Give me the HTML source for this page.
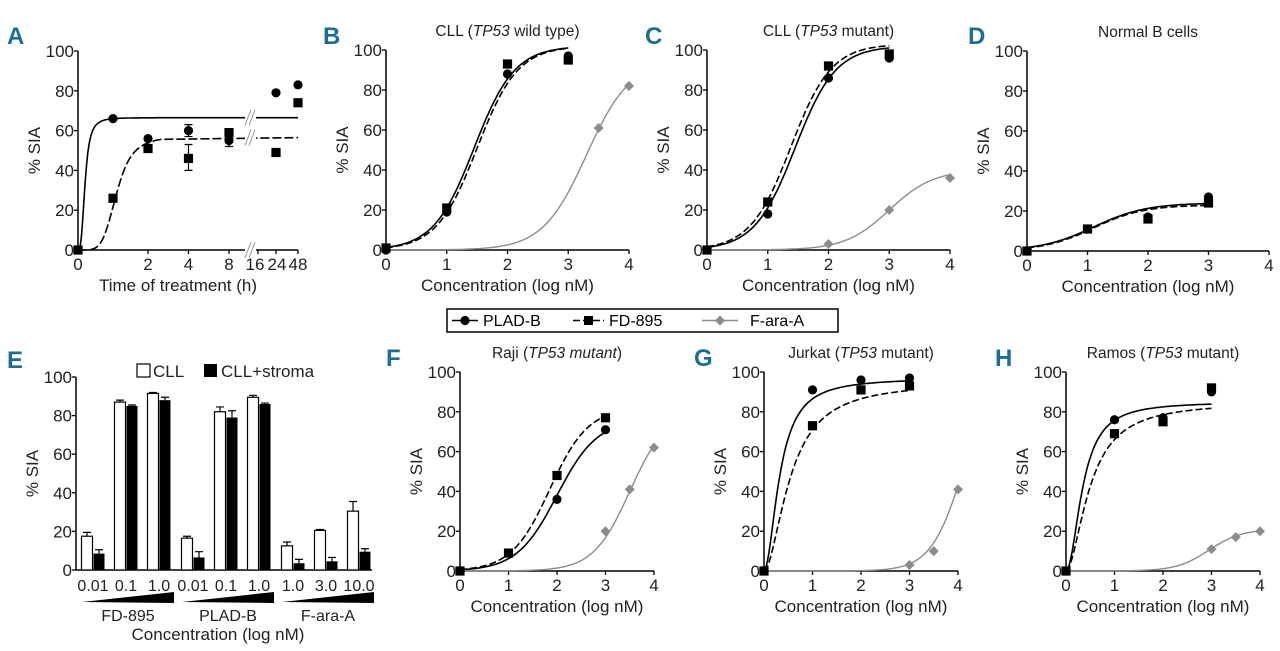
<!DOCTYPE html>
<html><head><meta charset="utf-8"><style>
html,body{margin:0;padding:0;background:#fff;}
svg{display:block;font-family:"Liberation Sans",sans-serif;}
.lt{font-family:"Liberation Sans Narrow","Liberation Sans",sans-serif;font-weight:bold;fill:#1c6f93;font-size:24px;}
</style></head><body>
<svg id="fig" width="1280" height="651" viewBox="0 0 1280 651" xmlns="http://www.w3.org/2000/svg"></svg>
<script>
// ---------- DATA ----------
const conc = [0,1,2,3];
const B_plad = [0,19,88,97];
const B_fd = [1,21,93,95];
const B_fx = [3.5,4];
const B_fara = [61,82];
const C_plad = [0,18,86,96];
const C_fd = [0,24,92,98];
const C_fx = [2,3,4];
const C_fara = [3,20,36];
const D_plad = [0,11,17,27];
const D_fd = [0,11,16,24];
const F_plad = [0,9,36,71];
const F_fd = [0,9,48,77];
const F_fx = [3,3.5,4];
const F_fara = [20,41,62];
const G_plad = [0,91,96,97];
const G_fd = [0,73,91,93];
const G_fx = [3,3.5,4];
const G_fara = [3,10,41];
const H_plad = [0,76,77,90];
const H_fd = [0,69,75,92];
const H_fx = [3,3.5,4];
const H_fara = [11,17,20];
// curve params: [model, top, ec, hill]
const B_fit = [["L",102,1.45,1.3],["L",102,1.5,1.3],["L",95,3.3,1.2]];
const C_fit = [["L",102,1.45,1.3],["L",103,1.38,1.3],["L",40,3.0,1.2]];
const D_fit = [["L",24,1.1,1.0],["L",23,1.1,1.05],null];
const F_fit = [["L",76,2.0,1.05],["L",82,1.85,1.1],["L",80,3.5,1.15]];
const G_fit = [["H",97,0.33,1.9],["H",95,0.55,1.8],["L",100,4.1,1.3]];
const H_fit = [["H",85,0.35,2],["H",85,0.5,1.8],["L",21,2.95,1.3]];
const yTicks = [0,20,40,60,80,100];
const xTicks = [0,1,2,3,4];
// Panel A
const A_time = [0,1,2,4,8,24,48];
const A_plad = [0,66,56,60,55,79,83];
const A_fd = [0,26,51,46,59,49,74];
const A_errTime = [2,4,4,8];
const A_errLo = [55,57,40,52];
const A_errHi = [57,63,53,57];
const A_fit = [["H",66.5,0.2,3],["H",56.5,1.1,5]];
const A_xTicks = [0,2,4,8,16,24,48];
// Panel E
const E_groups = ["FD-895","PLAD-B","F-ara-A"];
const E_doses = ["0.01","0.1","1.0","0.01","0.1","1.0","1.0","3.0","10.0"];
const E_cll = [17.5,87,91.5,16.5,82,89.5,12.5,20.5,30.5];
const E_cllErr = [2,1,0.5,1,2.5,1,2,0.5,5];
const E_str = [8.5,85,88,6.5,79,86,3.5,4.5,9.5];
const E_strErr = [2,0.5,1.5,3,3.5,0.5,2,2,1.5];

// ---------- HELPERS ----------
const NS="http://www.w3.org/2000/svg";
const svg=document.getElementById('fig');
function mk(tag,attrs,parent){const e=document.createElementNS(NS,tag);for(const k in attrs)e.setAttribute(k,attrs[k]);(parent||svg).appendChild(e);return e;}
function fitY(p,x){if(p[0]==="L")return p[1]/(1+Math.pow(10,(p[2]-x)*p[3]));if(x<=0)return 0;return p[1]*Math.pow(x,p[3])/(Math.pow(p[2],p[3])+Math.pow(x,p[3]));}
function marker(g,type,cx,cy,name){let e;
 if(type==="c")e=mk('circle',{cx:cx,cy:cy,r:4.6,fill:'#000'},g);
 else if(type==="s")e=mk('rect',{x:cx-4.6,y:cy-4.6,width:9.2,height:9.2,fill:'#000'},g);
 else e=mk('path',{d:`M${cx} ${cy-5}L${cx+5} ${cy}L${cx} ${cy+5}L${cx-5} ${cy}Z`,fill:'#8c8c8c'},g);
 
 
 return e;}
function txt(g,x,y,s,attrs){const t=mk('text',Object.assign({x:x,y:y},attrs||{}),g);t.textContent=s;return t;}

function yAxis(g,ax,yb,yt){
 const sy=v=>yb+(yt-yb)*v/100;
 const l=mk('line',{x1:ax,y1:yb,x2:ax,y2:yt,stroke:'#000','stroke-width':1.5},g);
 
 
 yTicks.forEach(v=>{mk('line',{x1:ax-4,x2:ax,y1:sy(v),y2:sy(v),stroke:'#000','stroke-width':1.3},g);
  const t=txt(g,ax-4,sy(v)+6,String(v),{'font-size':17,'text-anchor':'end',fill:'#222'});
  
  });
 const yt2=txt(g,0,0,'% SIA',{'font-size':17,'text-anchor':'middle',fill:'#222',transform:`translate(${ax-38},${(yb+yt)/2}) rotate(-90)`});
 
 
 return sy;}

function panel(name,cfg,plad,fd,fx,fara,fit){
 const g=mk('g',{});
 
 
 const sx=v=>cfg.x0+cfg.xs*v;
 const sy=yAxis(g,cfg.x0,cfg.yb,cfg.yt);
 const xl=mk('line',{x1:cfg.x0,y1:cfg.yb,x2:sx(4),y2:cfg.yb,stroke:'#000','stroke-width':1.5},g);
 
 
 xTicks.forEach(v=>{mk('line',{x1:sx(v),x2:sx(v),y1:cfg.yb,y2:cfg.yb+4,stroke:'#000','stroke-width':1.3},g);
  const t=txt(g,sx(v),cfg.yb+20,String(v),{'font-size':17,'text-anchor':'middle',fill:'#222'});
  
  });
 const xt=txt(g,sx(2),cfg.yb+41,'Concentration (log nM)',{'font-size':17,'text-anchor':'middle',fill:'#222'});
 
 
 const tt=mk('text',{x:sx(2),y:cfg.yt-14,'font-size':15.5,'text-anchor':'middle',fill:'#222'},g);
 tt.innerHTML=cfg.title;
 
 
 const styles=[{stroke:'#000','stroke-width':1.6},{stroke:'#000','stroke-width':1.6,'stroke-dasharray':'7,3'},{stroke:'#8c8c8c','stroke-width':1.4}];
 const names=['plad-b-fit-curve','fd-895-fit-curve','f-ara-a-fit-curve'];
 fit.forEach((p,i)=>{if(!p)return;const xe=i===2?4:3;let d='';
  for(let k=0;k<=120;k++){const x=xe*k/120;d+=(k?'L':'M')+sx(x).toFixed(1)+' '+sy(Math.min(fitY(p,x),104)).toFixed(1);}
  const c=mk('path',Object.assign({d:d,fill:'none'},styles[i]),g);
  
  });
 if(fx)fx.forEach((x,i)=>marker(g,'d',sx(x),sy(fara[i]),'f-ara-a-point'));
 conc.forEach((x,i)=>marker(g,'s',sx(x),sy(fd[i]),'fd-895-point'));
 conc.forEach((x,i)=>marker(g,'c',sx(x),sy(plad[i]),'plad-b-point'));
}

panel('panel-b',{x0:386,xs:60.75,yb:250,yt:50,title:'CLL (<tspan font-style="italic">TP53</tspan> wild type)'},B_plad,B_fd,B_fx,B_fara,B_fit);
panel('panel-c',{x0:707,xs:60.75,yb:250,yt:50,title:'CLL (<tspan font-style="italic">TP53</tspan> mutant)'},C_plad,C_fd,C_fx,C_fara,C_fit);
panel('panel-d',{x0:1027,xs:60.5,yb:251,yt:51,title:'Normal B cells'},D_plad,D_fd,null,null,D_fit);
panel('panel-f',{x0:460,xs:48.5,yb:571,yt:372,title:'Raji (<tspan font-style="italic">TP53 mutant</tspan>)'},F_plad,F_fd,F_fx,F_fara,F_fit);
panel('panel-g',{x0:764,xs:48.5,yb:571,yt:372,title:'Jurkat (<tspan font-style="italic">TP53</tspan> mutant)'},G_plad,G_fd,G_fx,G_fara,G_fit);
panel('panel-h',{x0:1066,xs:48.5,yb:571,yt:372,title:'Ramos (<tspan font-style="italic">TP53</tspan> mutant)'},H_plad,H_fd,H_fx,H_fara,H_fit);

// ---------- PANEL A ----------
(function(){
 const g=mk('g',{});
 
 
 const ax=78, yb=250, yt=51;
 const brkV=[8,16,24,48], brkP=[229,258,276,298];
 function sx(v){if(v<=2)return ax+35*v;if(v<=8)return 148+40.5*Math.log2(v/2);
  for(let i=0;i<3;i++)if(v<=brkV[i+1])return brkP[i]+(brkP[i+1]-brkP[i])*(v-brkV[i])/(brkV[i+1]-brkV[i]);return 298;}
 const sy=yAxis(g,ax,yb,yt);
 mk('line',{x1:ax,y1:yb,x2:298,y2:yb,stroke:'#000','stroke-width':1.5},g);
 A_xTicks.forEach(v=>{mk('line',{x1:sx(v),x2:sx(v),y1:yb,y2:yb+4,stroke:'#000','stroke-width':1.3},g);
  const t=txt(g,sx(v)+(v===16?-3:v===24?1:0),yb+20,String(v),{'font-size':17,'text-anchor':'middle',fill:'#222'});
  
  });
 const xt=txt(g,178,yb+41,'Time of treatment (h)',{'font-size':17,'text-anchor':'middle',fill:'#222'});
 
 
 const st=[{stroke:'#000','stroke-width':1.6},{stroke:'#000','stroke-width':1.6,'stroke-dasharray':'9,3'}];
 A_fit.forEach((p,i)=>{let d='';for(let k=0;k<=80;k++){const x=2.5*k/80;d+=(k?'L':'M')+sx(x).toFixed(1)+' '+sy(fitY(p,x)).toFixed(1);}
  d+='L298 '+sy(p[1]).toFixed(1);
  const c=mk('path',Object.assign({d:d,fill:'none'},st[i]),g);
  
  });
 // break marks
 [[sy(66.5)],[sy(56.5)],[yb]].forEach(a=>{const y=a[0];
  mk('rect',{x:245,y:y-3,width:11,height:6,fill:'#fff'},g);
  const b=mk('path',{d:`M245 ${y+8}L251 ${y-8}M249 ${y+8}L255 ${y-8}`,stroke:'#999','stroke-width':1,fill:'none'},g);
  
  });
 A_errTime.forEach((t,i)=>{const x=sx(t);const e=mk('path',{d:`M${x} ${sy(A_errLo[i])}V${sy(A_errHi[i])}M${x-4} ${sy(A_errLo[i])}H${x+4}M${x-4} ${sy(A_errHi[i])}H${x+4}`,stroke:'#000','stroke-width':1.2,fill:'none'},g);
  
  });
 A_time.forEach((t,i)=>marker(g,'s',sx(t),sy(A_fd[i]),'fd-895-point'));
 A_time.forEach((t,i)=>marker(g,'c',sx(t),sy(A_plad[i]),'plad-b-point'));
})();

// ---------- PANEL E ----------
(function(){
 const g=mk('g',{});
 
 
 const ax=76, yb=570, yt=377;
 const sy=yAxis(g,ax,yb,yt);
 mk('line',{x1:ax,y1:yb,x2:372,y2:yb,stroke:'#000','stroke-width':1.5},g);
 const bw=11;
 const cx=i=>87+Math.floor(i/3)*100+(i%3)*33;
 E_cll.forEach((v,i)=>{const x=cx(i);
  const r=mk('rect',{x:x-bw/2,y:sy(v),width:bw,height:yb-sy(v),fill:'#fff',stroke:'#000','stroke-width':1.2},g);
  
  
  const e=mk('path',{d:`M${x} ${sy(v)}V${sy(v+E_cllErr[i])}M${x-4} ${sy(v+E_cllErr[i])}H${x+4}`,stroke:'#000','stroke-width':1.2},g);
  
  
  const s=E_str[i], x2=x+12;
  const r2=mk('rect',{x:x2-bw/2,y:sy(s),width:bw,height:yb-sy(s),fill:'#000'},g);
  
  
  const e2=mk('path',{d:`M${x2} ${sy(s)}V${sy(s+E_strErr[i])}M${x2-4} ${sy(s+E_strErr[i])}H${x2+4}`,stroke:'#000','stroke-width':1.2},g);
  
  
  const t=txt(g,x+6,591,E_doses[i],{'font-size':16,'text-anchor':'middle',fill:'#222'});
  
  });
 E_groups.forEach((n,k)=>{const x0=82+k*100, x1=x0+92;
  const w=mk('path',{d:`M${x0} 602L${x1} 592L${x1} 603Z`,fill:'#000'},g);
  
  
  const t=txt(g,x0+46,621,n,{'font-size':16,'text-anchor':'middle',fill:'#222'});
  
  });
 const xt=txt(g,218,640,'Concentration (log nM)',{'font-size':17,'text-anchor':'middle',fill:'#222'});
 
 
})();
</script>

<!-- static overlays -->
<svg style="position:absolute;left:0;top:0" width="1280" height="651">
 <text class="lt" x="7" y="44">A</text>
 <text class="lt" x="323" y="44">B</text>
 <text class="lt" x="645" y="44">C</text>
 <text class="lt" x="968" y="44">D</text>
 <text class="lt" x="7" y="368">E</text>
 <text class="lt" x="386" y="366">F</text>
 <text class="lt" x="694" y="366">G</text>
 <text class="lt" x="995" y="366">H</text>
 <g font-family="Liberation Sans, sans-serif" font-size="17" fill="#222">
  <rect x="137" y="364" width="13" height="13" fill="#fff" stroke="#000" stroke-width="1.2"/>
  <text x="153" y="377">CLL</text>
  <rect x="204" y="364" width="13" height="13" fill="#000"/>
  <text x="221" y="377">CLL+stroma</text>
 </g>
 <g font-family="Liberation Sans, sans-serif" font-size="16" fill="#000">
  <rect x="447" y="309" width="391" height="23" fill="#fff" stroke="#000" stroke-width="1.5"/>
  <g>
   <line x1="452" y1="320.5" x2="478" y2="320.5" stroke="#000" stroke-width="1.6"/>
   <circle cx="465" cy="320.5" r="4.6" fill="#000"/>
   <text x="483" y="326">PLAD-B</text>
  </g>
  <g>
   <line x1="573" y1="320.5" x2="604" y2="320.5" stroke="#000" stroke-width="1.6" stroke-dasharray="7,3"/>
   <rect x="584" y="316" width="9" height="9" fill="#000"/>
   <text x="609" y="326">FD-895</text>
  </g>
  <g>
   <line x1="702" y1="320.5" x2="738" y2="320.5" stroke="#8c8c8c" stroke-width="1.4"/>
   <path d="M720 315.5L725 320.5L720 325.5L715 320.5Z" fill="#8c8c8c"/>
   <text x="750" y="326">F-ara-A</text>
  </g>
 </g>
</svg>
</body></html>
